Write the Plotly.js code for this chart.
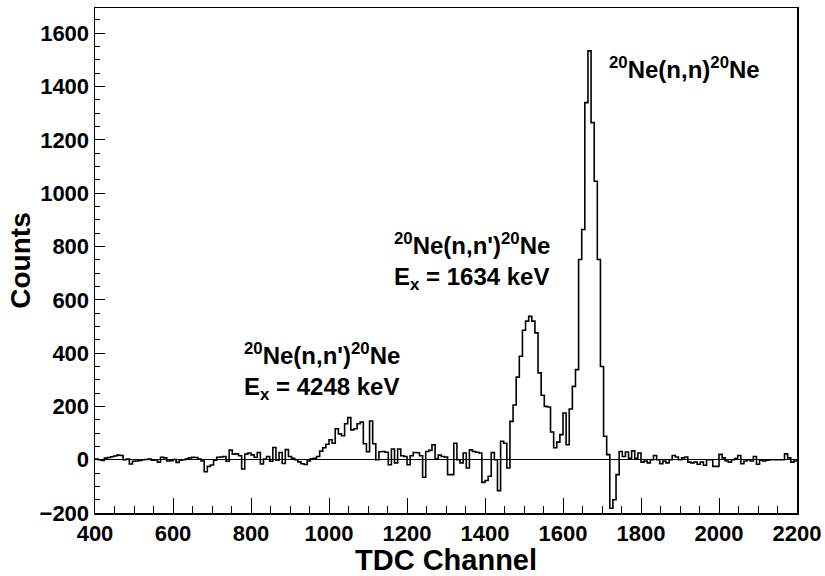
<!DOCTYPE html>
<html>
<head>
<meta charset="utf-8">
<script src="https://cdn.plot.ly/plotly-3.0.1.min.js"></script>
<style>html,body{margin:0;padding:0;background:#fff;}#chart{width:825px;height:576px;}</style>
</head>
<body>
<div id="chart"></div>
<script>
// Histogram definition: first bin low edge and bin width (TDC channels)
const binStart = 400;
const binWidth = 8;
// Counts per bin, starting at channel 400
const counts = [
  2, 0, -3, 6, 8, 11, 14, 17, 16, 0,
  2, -16, -6, -5, -3, 0, 1, 2, -2, -1,
  -9, 9, 7, -5, -4, 1, -10, -2, 0, 3,
  7, 9, 8, 2, -5, -45, -25, -20, -2, 9,
  10, 12, -6, 36, 21, 22, 15, -35, 21, 25,
  18, 9, 27, -16, 2, 12, -6, 46, -2, 27,
  -14, 38, 12, 5, 0, -8, -15, -18, -5, 3,
  5, 12, 32, 45, 58, 75, 62, 116, 97, 90,
  135, 158, 112, 116, 135, 141, 60, 30, 145, 60,
  0, 30, 31, 28, -19, 40, -12, 40, 15, 12,
  -19, 15, 27, 26, 15, -66, 31, 35, 56, 2,
  17, 12, 10, -56, -56, 62, 0, -12, 25, -31,
  37, 31, 28, 25, -85, -78, -62, 27, 0, -116,
  69, 62, -31, 144, 205, 310, 388, 486, 520, 538,
  520, 476, 326, 242, 200, 198, 104, 45, 66, 94,
  175, 56, 190, 275, 338, 751, 864, 1340, 1534, 1265,
  1045, 751, 350, 88, 19, -182, -150, -56, 31, 12,
  29, 5, 33, 5, 25, -9, -5, -12, 0, 16,
  0, -15, -5, -12, 0, 16, 10, 0, 7, 10,
  -9, -12, -9, -17, -9, -21, 0, 0, -25, -25,
  20, 7, -5, -9, 0, 4, 16, -15, -5, 0,
  -5, 12, -17, -2, -5, -2, 0, 0, 0, 0,
  0, 22, 7, -9, -5
];
const xTitle = 'TDC Channel';
const yTitle = 'Counts';
const labels = [
  {x: 1712, y: 1470, text: '<sup>20</sup>Ne(n,n)<sup>20</sup>Ne'},
  {x: 1162, y: 744, text: "<sup>20</sup>Ne(n,n')<sup>20</sup>Ne<br>E<sub>x</sub> = 1634 keV"},
  {x: 777, y: 330, text: "<sup>20</sup>Ne(n,n')<sup>20</sup>Ne<br>E<sub>x</sub> = 4248 keV"}
];

// step outline: bin edges with last content repeated
const edges = [];
const ys = [];
for (let i = 0; i < counts.length; i++) { edges.push(binStart + i * binWidth); ys.push(counts[i]); }
edges.push(binStart + counts.length * binWidth); ys.push(counts[counts.length - 1]);

const FONT = 'Liberation Sans, Arial, Helvetica, sans-serif';

const trace = {
  x: edges, y: ys, type: 'scatter', mode: 'lines',
  line: {shape: 'hv', color: '#000', width: 1.6},
  hoverinfo: 'skip', showlegend: false
};

const layout = {
  width: 825, height: 576,
  margin: {l: 95, r: 28, t: 8, b: 63, pad: 0},
  paper_bgcolor: '#fff', plot_bgcolor: '#fff',
  showlegend: false,
  xaxis: {
    range: [400, 2200], tick0: 400, dtick: 200,
    ticks: 'inside', ticklen: 15, tickwidth: 1, tickcolor: '#000',
    minor: {dtick: 50, ticks: 'inside', ticklen: 7, tickwidth: 1, tickcolor: '#000'},
    showline: true, mirror: true, linecolor: '#000', linewidth: 1.5,
    showgrid: false, zeroline: false, automargin: false,
    tickfont: {family: FONT, size: 22, weight: 'bold', color: '#000'},
    title: {text: xTitle, font: {family: FONT, size: 29, weight: 'bold', color: '#000'}, standoff: 5}
  },
  yaxis: {
    range: [-200, 1695], tick0: 0, dtick: 200,
    ticks: 'inside', ticklen: 10, tickwidth: 1, tickcolor: '#000',
    minor: {dtick: 50, ticks: 'inside', ticklen: 5, tickwidth: 1, tickcolor: '#000'},
    showline: true, mirror: true, linecolor: '#000', linewidth: 1.5,
    showgrid: false, zeroline: true, zerolinecolor: '#000', zerolinewidth: 1,
    automargin: false,
    tickfont: {family: FONT, size: 22, weight: 'bold', color: '#000'},
    title: {text: yTitle, font: {family: FONT, size: 28, weight: 'bold', color: '#000'}, standoff: 0}
  },
  annotations: labels.map(a => ({
    x: a.x, y: a.y, xref: 'x', yref: 'y', text: a.text, showarrow: false,
    xanchor: 'left', yanchor: 'middle', align: 'left',
    font: {family: FONT, size: 24, weight: 'bold', color: '#000'}
  }))
};

Plotly.newPlot('chart', [trace], layout, {staticPlot: true, displayModeBar: false});
</script>
</body>
</html>
